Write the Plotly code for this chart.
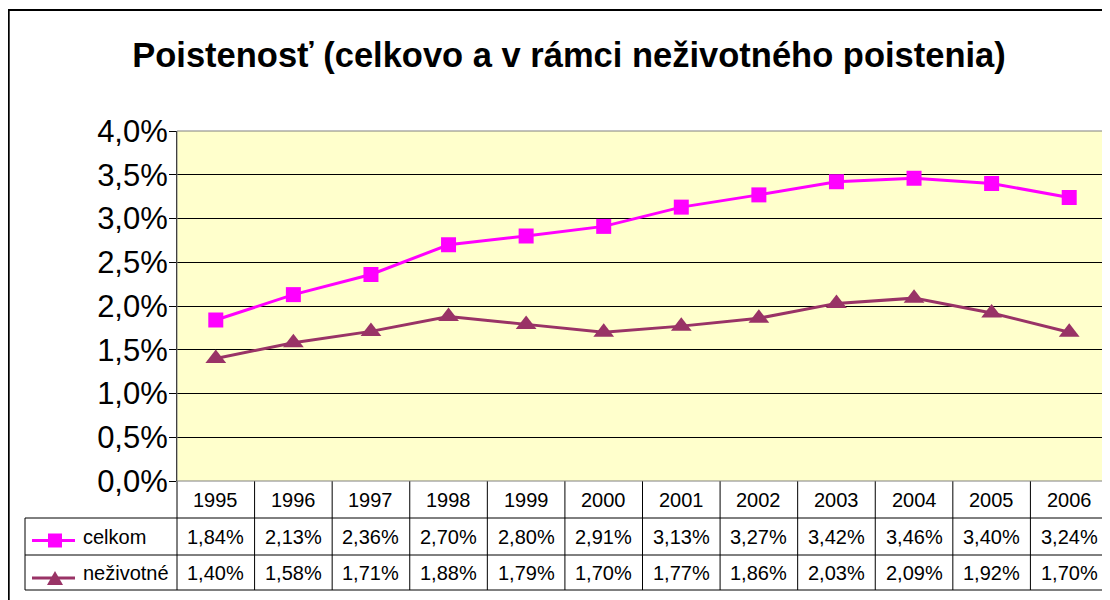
import plotly.graph_objects as go

years = ["1995", "1996", "1997", "1998", "1999", "2000", "2001", "2002", "2003", "2004", "2005", "2006"]
celkom = [1.84, 2.13, 2.36, 2.70, 2.80, 2.91, 3.13, 3.27, 3.42, 3.46, 3.40, 3.24]
nezivotne = [1.40, 1.58, 1.71, 1.88, 1.79, 1.70, 1.77, 1.86, 2.03, 2.09, 1.92, 1.70]
series_names = ["celkom", "neživotné"]
y_ticks = [0.0, 0.5, 1.0, 1.5, 2.0, 2.5, 3.0, 3.5, 4.0]
title_text = "Poistenosť (celkovo a v rámci neživotného poistenia)"

OFF = 8  # default page body margin
W, H = 1110 - OFF, 600 - OFF
L, R, T, B = 177 - OFF, 2, 131 - OFF, 119
PW, PH = W - L - R, H - T - B
FONT = "Liberation Sans, Arial, sans-serif"
C1 = "#FF00FF"
C2 = "#993366"


def px(xp):
    return (xp - OFF - L) / PW


def py(yp):
    return (H - B - (yp - OFF)) / PH


fig = go.Figure()
fig.add_trace(go.Scatter(x=years, y=[v / 100 for v in celkom], mode="lines+markers",
                         name=series_names[0], line=dict(color=C1, width=3),
                         marker=dict(symbol="square", size=15, color=C1)))
fig.add_trace(go.Scatter(x=years, y=[v / 100 for v in nezivotne], mode="lines+markers",
                         name=series_names[1], line=dict(color=C2, width=3),
                         marker=dict(symbol="triangle-up", size=18, color=C2)))

shapes = []
annotations = []
n = len(years)
row_y = [py(518), py(555), py(590)]
leg_x = px(25)
# table grid
for k in range(n + 1):
    shapes.append(dict(type="line", xref="paper", yref="paper", x0=k / n, x1=k / n,
                       y0=0, y1=row_y[2], line=dict(color="black", width=1)))
for yy in row_y:
    shapes.append(dict(type="line", xref="paper", yref="paper", x0=leg_x, x1=1,
                       y0=yy, y1=yy, line=dict(color="black", width=1)))
shapes.append(dict(type="line", xref="paper", yref="paper", x0=leg_x, x1=leg_x,
                   y0=row_y[0], y1=row_y[2], line=dict(color="black", width=1)))
# plot-area border (grey)
shapes.append(dict(type="rect", xref="paper", yref="paper", x0=0, x1=1, y0=0, y1=1,
                   line=dict(color="#808080", width=1), layer="above"))
# outer frame
shapes.append(dict(type="rect", xref="paper", yref="paper", x0=px(8.7), x1=px(1130),
                   y0=py(630), y1=py(10), line=dict(color="black", width=2)))

# legend keys
ly1, ly2 = 540.5, 578
shapes.append(dict(type="line", xref="paper", yref="paper", x0=px(32), x1=px(75),
                   y0=py(ly1), y1=py(ly1), line=dict(color=C1, width=3)))
shapes.append(dict(type="rect", xref="paper", yref="paper", x0=px(48), x1=px(62),
                   y0=py(ly1 - 7), y1=py(ly1 + 7), line=dict(width=0), fillcolor=C1))
shapes.append(dict(type="line", xref="paper", yref="paper", x0=px(32), x1=px(75),
                   y0=py(ly2), y1=py(ly2), line=dict(color=C2, width=3)))
shapes.append(dict(type="path", xref="paper", yref="paper",
                   path=f"M {px(47)} {py(585)} L {px(63)} {py(585)} L {px(55)} {py(571)} Z",
                   line=dict(width=0), fillcolor=C2))

row_centers = [py(499.5), py(536.5), py(572.5)]
tfont = dict(size=20, color="black", family=FONT)
for i, yr in enumerate(years):
    xc = (i + 0.5) / n
    cells = [yr, f"{celkom[i]:.2f}%".replace(".", ","), f"{nezivotne[i]:.2f}%".replace(".", ",")]
    for txt, yc in zip(cells, row_centers):
        annotations.append(dict(x=xc, xref="paper", xanchor="center", y=yc, yref="paper",
                                yanchor="middle", text=txt, showarrow=False, font=tfont))
for name, yc in zip(series_names, row_centers[1:]):
    annotations.append(dict(x=px(81), xref="paper", xanchor="left", y=yc, yref="paper",
                            yanchor="middle", text=name, showarrow=False, font=tfont))

fig.update_layout(
    width=W, height=H, autosize=False,
    margin=dict(l=L, r=R, t=T, b=B),
    paper_bgcolor="white", plot_bgcolor="#FFFFCC",
    separators=", ",
    showlegend=False,
    title=dict(text="<b>" + title_text + "</b>", x=(569 - OFF) / W, xanchor="center",
               y=1 - (55 - OFF) / H, yanchor="middle",
               font=dict(size=34.5, color="black", family=FONT)),
    xaxis=dict(type="category", range=[-0.5, n - 0.5], showticklabels=False,
               showgrid=False, zeroline=False, showline=False, ticks=""),
    yaxis=dict(range=[0, 0.04], tickvals=[v / 100 for v in y_ticks], tickformat=".1%",
               showgrid=True, gridcolor="black", gridwidth=1, zeroline=False,
               showline=True, linecolor="black", linewidth=1,
               ticks="outside", ticklen=7, tickcolor="black", tickwidth=1,
               ticklabelstandoff=-5,
               tickfont=dict(size=31, color="black", family=FONT)),
    shapes=shapes, annotations=annotations,
)

fig.write_html("out.html")
